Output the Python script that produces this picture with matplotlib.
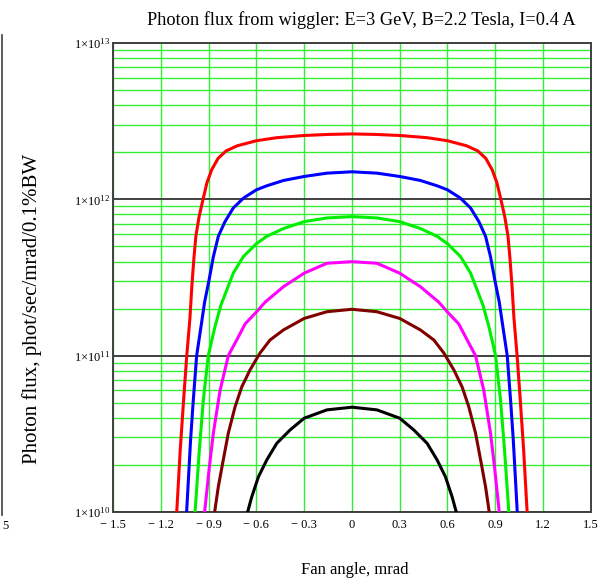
import numpy as np
import matplotlib
matplotlib.use("Agg")
import matplotlib.pyplot as plt
from matplotlib.ticker import FixedLocator, LogLocator, NullFormatter
from matplotlib.lines import Line2D

plt.rcParams['font.family'] = ['Liberation Serif', 'DejaVu Serif']
plt.rcParams['mathtext.fontset'] = 'custom'
plt.rcParams['mathtext.rm'] = 'Liberation Serif'
plt.rcParams['mathtext.it'] = 'Liberation Serif:italic'

# photon flux (phot/sec/mrad/0.1%BW) vs fan angle (mrad), one curve per photon energy
red_angle = [-1.10, -1.078, -1.057, -1.037, -1.017, -1.005, -0.993, -0.98, -0.96, -0.935, -0.91, -0.88,
             -0.84, -0.79, -0.72, -0.60, -0.47, -0.30, -0.15, 0.0,
             0.15, 0.30, 0.47, 0.60, 0.72, 0.79, 0.84, 0.88, 0.91, 0.935, 0.96, 0.98, 0.993, 1.005,
             1.017, 1.037, 1.057, 1.078, 1.10]
red_flux = [1e10, 2.5e10, 5.2e10, 1e11, 1.75e11, 2.8e11, 4.1e11, 5.8e11, 7.7e11, 1.0e12, 1.28e12, 1.55e12,
            1.83e12, 2.04e12, 2.2e12, 2.37e12, 2.48e12, 2.56e12, 2.6e12, 2.62e12,
            2.6e12, 2.56e12, 2.48e12, 2.37e12, 2.2e12, 2.04e12, 1.83e12, 1.55e12, 1.28e12, 1.0e12, 7.7e11,
            5.8e11, 4.1e11, 2.8e11, 1.75e11, 1e11, 5.2e10, 2.5e10, 1e10]

blue_angle = [-1.038, -1.013, -0.996, -0.975, -0.945, -0.925, -0.897, -0.87, -0.839, -0.797, -0.745,
              -0.68, -0.60, -0.535, -0.43, -0.30, -0.157, 0.0,
              0.157, 0.30, 0.43, 0.535, 0.60, 0.68, 0.745, 0.797, 0.839, 0.87, 0.897, 0.925, 0.945,
              0.975, 0.996, 1.013, 1.038]
blue_flux = [1e10, 2.9e10, 5.2e10, 1e11, 1.6e11, 2.2e11, 3.05e11, 4.3e11, 5.8e11, 7.2e11, 8.8e11,
             1.02e12, 1.15e12, 1.22e12, 1.32e12, 1.4e12, 1.47e12, 1.5e12,
             1.47e12, 1.4e12, 1.32e12, 1.22e12, 1.15e12, 1.02e12, 8.8e11, 7.2e11, 5.8e11, 4.3e11, 3.05e11,
             2.2e11, 1.6e11, 1e11, 5.2e10, 2.9e10, 1e10]

green_angle = [-0.985, -0.958, -0.933, -0.902, -0.86, -0.823, -0.786, -0.745, -0.682, -0.60, -0.535,
               -0.43, -0.30, -0.157, 0.0,
               0.157, 0.30, 0.43, 0.535, 0.60, 0.682, 0.745, 0.786, 0.823, 0.86, 0.902, 0.933, 0.958, 0.985]
green_flux = [1e10, 2.5e10, 5.2e10, 1e11, 1.53e11, 2.1e11, 2.63e11, 3.37e11, 4.3e11, 5.2e11, 5.8e11,
              6.5e11, 7.2e11, 7.6e11, 7.75e11,
              7.6e11, 7.2e11, 6.5e11, 5.8e11, 5.2e11, 4.3e11, 3.37e11, 2.63e11, 2.1e11, 1.53e11, 1e11,
              5.2e10, 2.5e10, 1e10]

magenta_angle = [-0.925, -0.895, -0.87, -0.828, -0.776, -0.72, -0.67, -0.60, -0.545, -0.43, -0.30,
                 -0.157, 0.0,
                 0.157, 0.30, 0.43, 0.545, 0.60, 0.67, 0.72, 0.776, 0.828, 0.87, 0.895, 0.925]
magenta_flux = [1e10, 1.95e10, 3.2e10, 6e10, 1e11, 1.28e11, 1.6e11, 1.9e11, 2.2e11, 2.76e11, 3.37e11,
                3.9e11, 3.99e11,
                3.9e11, 3.37e11, 2.76e11, 2.2e11, 1.9e11, 1.6e11, 1.28e11, 1e11, 6e10, 3.2e10, 1.95e10, 1e10]

maroon_angle = [-0.862, -0.839, -0.808, -0.776, -0.734, -0.692, -0.64, -0.577, -0.514, -0.43, -0.30,
                -0.157, 0.0,
                0.157, 0.30, 0.43, 0.514, 0.577, 0.64, 0.692, 0.734, 0.776, 0.808, 0.839, 0.862]
maroon_flux = [1e10, 1.45e10, 2.15e10, 3.2e10, 4.7e10, 6.3e10, 8.1e10, 1.04e11, 1.26e11, 1.46e11, 1.73e11,
               1.91e11, 1.98e11,
               1.91e11, 1.73e11, 1.46e11, 1.26e11, 1.04e11, 8.1e10, 6.3e10, 4.7e10, 3.2e10, 2.15e10,
               1.45e10, 1e10]

black_angle = [-0.655, -0.629, -0.587, -0.535, -0.472, -0.388, -0.30, -0.157, 0.0,
               0.157, 0.30, 0.388, 0.472, 0.535, 0.587, 0.629, 0.655]
black_flux = [1e10, 1.25e10, 1.68e10, 2.15e10, 2.75e10, 3.35e10, 3.98e10, 4.5e10, 4.68e10,
              4.5e10, 3.98e10, 3.35e10, 2.75e10, 2.15e10, 1.68e10, 1.25e10, 1e10]

x_ticks = [-1.5, -1.2, -0.9, -0.6, -0.3, 0, 0.3, 0.6, 0.9, 1.2, 1.5]
x_tick_labels = ['\u2212 1.5', '\u2212 1.2', '\u2212 0.9', '\u2212 0.6', '\u2212 0.3', '0',
                 '0.3', '0.6', '0.9', '1.2', '1.5']
y_ticks = [1e10, 1e11, 1e12, 1e13]
y_tick_labels = [r'$1{\times}10^{10}$', r'$1{\times}10^{11}$', r'$1{\times}10^{12}$', r'$1{\times}10^{13}$']

fig = plt.figure(figsize=(6.11, 5.84), dpi=100)
ax = fig.add_axes([0.185, 0.1233, 0.782, 0.8031])

curves = [
    (red_angle, red_flux, '#ff0000'),
    (blue_angle, blue_flux, '#0000ff'),
    (green_angle, green_flux, '#00ee00'),
    (magenta_angle, magenta_flux, '#ff00ff'),
    (maroon_angle, maroon_flux, '#800000'),
    (black_angle, black_flux, '#000000'),
]
for ang, flux, col in curves:
    ax.plot(ang, flux, color=col, lw=2.2, solid_joinstyle='round', solid_capstyle='round', zorder=3)

ax.set_yscale('log')
ax.set_xlim(-1.5, 1.5)
ax.set_ylim(1e10, 1e13)

ax.xaxis.set_major_locator(FixedLocator(x_ticks))
ax.set_xticklabels(x_tick_labels)
ax.yaxis.set_major_locator(FixedLocator(y_ticks))
ax.set_yticklabels(y_tick_labels)
ax.yaxis.set_minor_locator(LogLocator(base=10, subs=np.arange(2, 10)))
ax.yaxis.set_minor_formatter(NullFormatter())

grn = '#33ee33'
ax.set_axisbelow(True)
ax.xaxis.grid(True, which='major', color=grn, lw=1.0)
ax.yaxis.grid(True, which='minor', color=grn, lw=1.0)
ax.yaxis.grid(True, which='major', color='#404040', lw=1.4)

ax.tick_params(which='both', length=0)
ax.tick_params(axis='x', pad=5, labelsize=9)
ax.tick_params(axis='y', pad=2, labelsize=9)
for s in ax.spines.values():
    s.set_color('#404040')
    s.set_linewidth(1.4)

ax.set_title('Photon flux from wiggler: E=3 GeV, B=2.2 Tesla, I=0.4 A', fontsize=13.2, pad=13, x=0.52)
ax.set_xlabel('Fan angle, mrad', fontsize=12, va='center')
ax.xaxis.set_label_coords(0.506, -0.124)
ax.set_ylabel('Photon flux, phot/sec/mrad/0.1%BW', fontsize=15, va='center')
ax.yaxis.set_label_coords(-0.169, 0.433)

# edge of the neighbouring panel
fig.add_artist(Line2D([0.004, 0.004], [0.118, 0.94], color='#404040', lw=1.2))
fig.text(0.004, 0.1, '5', fontsize=9, ha='left', va='center')

fig.savefig('out.png', dpi=100)
